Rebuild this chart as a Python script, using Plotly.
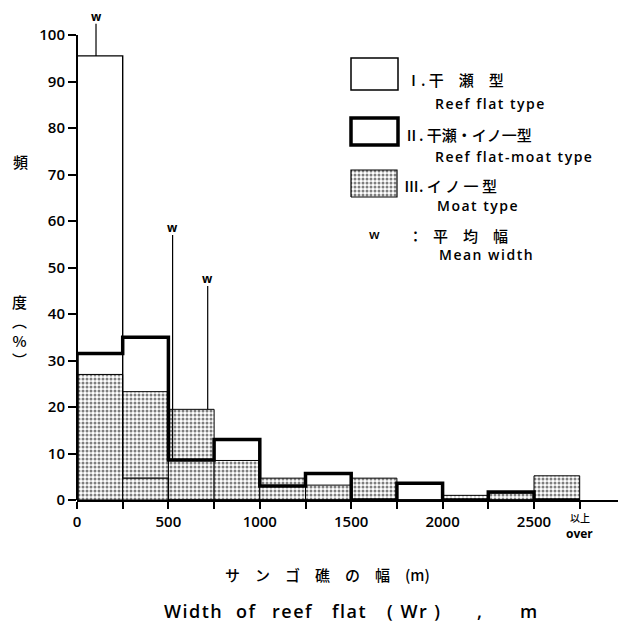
import plotly.graph_objects as go

# ---------------- data ----------------
bin_left = [0, 250, 500, 750, 1000, 1250, 1500, 1750, 2000, 2250, 2500]
bin_width = 250
type1_reef_flat = [95.5, 4.7, 0, 0, 0, 0, 0, 0, 0, 0, 0]
type2_reef_flat_moat = [31.5, 35, 8.6, 13, 3, 5.7, 0, 3.6, 0, 1.7, 0]
type3_moat = [27, 23.3, 19.5, 8.5, 4.7, 3.2, 4.7, 0, 1, 1.5, 5.2]
mean_width = [104, 523, 715]          # m, types I, II, III
mean_marker_top = [102.4, 57, 46]     # % level where the w-line ends
x_tickvals = [0, 250, 500, 750, 1000, 1250, 1500, 1750, 2000, 2250, 2500, 2750]
x_ticktext = ["0", "", "500", "", "1000", "", "1500", "", "2000", "", "2500", ""]
over_label_x = 2750
over_label_jp = "以上"
over_label_en = "over"
y_tickvals = [0, 10, 20, 30, 40, 50, 60, 70, 80, 90, 100]

FONT = "Open Sans"
JP = "Noto Sans CJK JP"

# The page body has an 8px margin; positions below are in reference-image px.
OFF = 8
W, H = 626, 625
PLOT_L, PLOT_R, PLOT_T, PLOT_B = 77, 620, 9, 500      # reference px
L, R = PLOT_L - OFF, W - (PLOT_R - OFF)
T, B = PLOT_T - OFF, H - (PLOT_B - OFF)
PW, PH = PLOT_R - PLOT_L, PLOT_B - PLOT_T
PX_PER_PCT = (500 - 35) / 100.0
Y_MAX = PH / PX_PER_PCT
X_MAX = 2500 * PW / (534 - 77)


def px2x(px):
    return (px - PLOT_L) / PW


def px2y(py):
    return (PLOT_B - py) / PH


fig = go.Figure()

STIPPLE = dict(shape=".", fgcolor="black", bgcolor="white", size=4, solidity=0.45)

# Type III: stippled bars
fig.add_trace(go.Bar(
    x=[l + bin_width / 2 for l in bin_left], y=type3_moat, width=bin_width,
    marker=dict(color="white", line=dict(color="black", width=1), pattern=STIPPLE),
    showlegend=False, hoverinfo="skip"))


def step(values):
    xs = [0] + bin_left + [bin_left[-1] + bin_width]
    ys = [0] + values + [0]
    return xs, ys


# Type I: thin outline
xs, ys = step(type1_reef_flat)
fig.add_trace(go.Scatter(x=xs, y=ys, mode="lines", line_shape="hv",
                         line=dict(color="black", width=1.4),
                         showlegend=False, hoverinfo="skip"))
# Type II: thick outline
xs, ys = step(type2_reef_flat_moat)
fig.add_trace(go.Scatter(x=xs, y=ys, mode="lines", line_shape="hv",
                         line=dict(color="black", width=3.5),
                         showlegend=False, hoverinfo="skip"))

# mean-width markers
series = [type1_reef_flat, type2_reef_flat_moat, type3_moat]
for mw, top, vals in zip(mean_width, mean_marker_top, series):
    base = vals[int(mw // bin_width)]
    fig.add_trace(go.Scatter(x=[mw, mw], y=[base, top], mode="lines",
                             line=dict(color="black", width=1.2),
                             showlegend=False, hoverinfo="skip"))
    fig.add_annotation(x=mw, y=top, text="w", showarrow=False,
                       yanchor="bottom", yshift=-3,
                       font=dict(family=FONT, size=12, color="black", weight=700))

# y axis line (stops at 100)
fig.add_shape(type="line", xref="paper", yref="y", x0=0, x1=0, y0=0, y1=100,
              line=dict(color="black", width=2))

# "以上 / over" label of the last tick
fig.add_annotation(x=over_label_x, xref="x", yref="paper", y=px2y(517),
                   text=over_label_jp, showarrow=False, xanchor="center", yanchor="middle",
                   font=dict(family=JP, size=10, color="black", weight=500))
fig.add_annotation(x=over_label_x, xref="x", yref="paper", y=px2y(533),
                   text=over_label_en, showarrow=False, xanchor="center", yanchor="middle",
                   font=dict(family=FONT, size=12, color="black", weight=700))

# legend boxes
fig.add_shape(type="rect", xref="paper", yref="paper",
              x0=px2x(351), x1=px2x(398), y0=px2y(90), y1=px2y(58),
              line=dict(color="black", width=1.5), fillcolor="white")
fig.add_shape(type="rect", xref="paper", yref="paper",
              x0=px2x(351), x1=px2x(398), y0=px2y(145), y1=px2y(118),
              line=dict(color="black", width=3.5), fillcolor="white")
bx0, bx1, by0, by1 = px2x(351), px2x(397), px2y(197), px2y(170)
fig.add_trace(go.Scatter(
    x=[bx0, bx1, bx1, bx0, bx0], y=[by0, by0, by1, by1, by0],
    xaxis="x2", yaxis="y2", mode="lines", fill="toself",
    fillcolor="white", fillpattern=STIPPLE,
    line=dict(color="black", width=1.2), showlegend=False, hoverinfo="skip"))

SP = "<span style='letter-spacing:1.5px'>{}</span>"
legend_texts = [
    ("Ⅰ. 干　瀬　型", 404, 80, JP, 15),
    (SP.format("Reef flat type"), 433, 104, FONT, 14),
    ("Ⅱ. 干瀬・イノ一型", 402, 134, JP, 15),
    (SP.format("Reef flat-moat type"), 433, 156, FONT, 14),
    ("Ⅲ. イ ノ 一 型", 402, 186, JP, 15),
    (SP.format("Moat type"), 435, 205, FONT, 14),
    ("w", 367, 234, FONT, 13),
    ("：", 406, 235, JP, 15),
    ("平　均　幅", 431, 235, JP, 15),
    (SP.format("Mean width"), 437, 254, FONT, 14),
]
for txt, px, py, fam, sz in legend_texts:
    fig.add_annotation(xref="paper", yref="paper", x=px2x(px), y=px2y(py),
                       text=txt, showarrow=False, xanchor="left", yanchor="middle",
                       font=dict(family=fam, size=sz, color="black",
                                 weight=600 if fam == FONT else 500))

# y-axis title pieces
for txt, px, py in [("頻", 20, 162), ("度", 19, 301), ("︵<br>%<br>︶", 19, 340)]:
    fig.add_annotation(xref="paper", yref="paper", x=px2x(px), y=px2y(py), text=txt,
                       showarrow=False, xanchor="center", yanchor="middle",
                       font=dict(family=JP, size=15, color="black", weight=500))

# x-axis titles
fig.add_annotation(xref="paper", yref="paper", x=px2x(327), y=px2y(574),
                   text="サ　ン　ゴ　礁　の　幅　(m)", showarrow=False,
                   xanchor="center", yanchor="middle",
                   font=dict(family=JP, size=15, color="black", weight=500))
title_words = [("Width", 193), ("of", 246), ("reef", 292), ("flat", 349),
               ("( Wr )", 414), (",", 480), ("m", 529)]
for word, px in title_words:
    fig.add_annotation(xref="paper", yref="paper", x=px2x(px), y=px2y(611),
                       text=SP.format(word), showarrow=False,
                       xanchor="center", yanchor="middle",
                       font=dict(family=FONT, size=18, color="black", weight=600))

fig.update_layout(
    width=W, height=H, margin=dict(l=L, r=R, t=T, b=B),
    paper_bgcolor="white", plot_bgcolor="white", barmode="overlay",
    xaxis=dict(range=[0, X_MAX], tickvals=x_tickvals, ticktext=x_ticktext,
               ticks="outside", ticklen=7, tickwidth=2, tickcolor="black",
               showline=True, linewidth=2, linecolor="black",
               showgrid=False, zeroline=False, automargin=False,
               tickfont=dict(family=FONT, size=15, color="black", weight=600)),
    yaxis=dict(range=[0, Y_MAX], tickvals=y_tickvals,
               ticks="outside", ticklen=8, tickwidth=2, tickcolor="black",
               showline=False, showgrid=False, zeroline=False, automargin=False,
               tickfont=dict(family=FONT, size=15, color="black", weight=600)),
    xaxis2=dict(overlaying="x", range=[0, 1], visible=False, anchor="y2", automargin=False),
    yaxis2=dict(overlaying="y", range=[0, 1], visible=False, anchor="x2", automargin=False),
    showlegend=False,
)

fig.write_html("out.html")
